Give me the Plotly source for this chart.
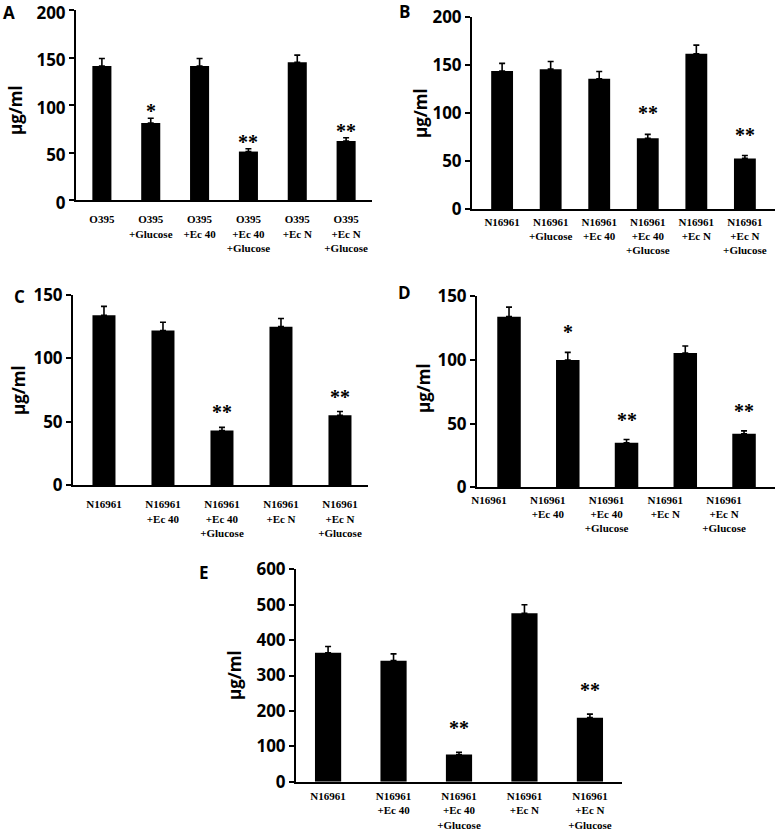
import plotly.graph_objects as go

# ---------------- data ----------------
cats_A = ["O395", "O395<br>+Glucose", "O395<br>+Ec 40", "O395<br>+Ec 40<br>+Glucose",
          "O395<br>+Ec N", "O395<br>+Ec N<br>+Glucose"]
vals_A = [141, 81, 141, 51, 145, 62]
err_A = [8, 5, 8, 3, 7.5, 3.5]
sig_A = ["", "*", "", "**", "", "**"]

cats_B = ["N16961", "N16961<br>+Glucose", "N16961<br>+Ec 40", "N16961<br>+Ec 40<br>+Glucose",
          "N16961<br>+Ec N", "N16961<br>+Ec N<br>+Glucose"]
vals_B = [144, 146, 136, 74, 162, 53]
err_B = [8, 8, 7.5, 4, 9, 3]
sig_B = ["", "", "", "**", "", "**"]

cats_CDE = ["N16961", "N16961<br>+Ec 40", "N16961<br>+Ec 40<br>+Glucose",
            "N16961<br>+Ec N", "N16961<br>+Ec N<br>+Glucose"]
vals_C = [134, 122, 43, 125, 55]
err_C = [7, 6.5, 2.5, 6.5, 3]
sig_C = ["", "", "**", "", "**"]

vals_D = [134, 100, 35, 105.5, 42]
err_D = [7.5, 6, 2.5, 5.5, 2.3]
sig_D = ["", "*", "**", "", "**"]

vals_E = [364, 342, 77, 476, 181]
err_E = [18, 19, 6, 24, 10]
sig_E = ["", "", "**", "", "**"]

y_title = "μg/ml"

# ---------------- layout helpers ----------------
W, H = 777, 834
SANS = "Open Sans"
SERIF = "Liberation Serif"


def px_x(px):
    return px / W


def px_y(py):
    return 1 - py / H


panels = [
    dict(letter="A", cats=cats_A, vals=vals_A, err=err_A, sig=sig_A,
         xpx=(76, 372), ypx=(200, 10), yr=[0, 200], dtick=50, xr=[-0.53, 5.53],
         bw=0.39, letter_pos=(9, 12), title_pos=(15, 110), standoff=8, shift=0, star=4,
         yshift_lab=3),
    dict(letter="B", cats=cats_B, vals=vals_B, err=err_B, sig=sig_B,
         xpx=(472, 775), ypx=(209.3, 17.3), yr=[0, 200], dtick=50, xr=[-0.62, 5.62],
         bw=0.45, letter_pos=(405, 11), title_pos=(420, 113), standoff=1, shift=0, star=18,
         yshift_lab=0),
    dict(letter="C", cats=cats_CDE, vals=vals_C, err=err_C, sig=sig_C,
         xpx=(73, 368), ypx=(485, 295), yr=[0, 150], dtick=50, xr=[-0.525, 4.475],
         bw=0.39, letter_pos=(19, 296), title_pos=(18, 390), standoff=8, shift=0, star=12,
         yshift_lab=0),
    dict(letter="D", cats=cats_CDE, vals=vals_D, err=err_D, sig=sig_D,
         xpx=(477, 775), ypx=(487.3, 296.3), yr=[0, 150], dtick=50, xr=[-0.545, 4.527],
         bw=0.40, letter_pos=(405, 292), title_pos=(423, 388), standoff=1, shift=-20, star=17,
         yshift_lab=0),
    dict(letter="E", cats=cats_CDE, vals=vals_E, err=err_E, sig=sig_E,
         xpx=(296, 622), ypx=(781.7, 569.3), yr=[0, 600], dtick=100, xr=[-0.49, 4.49],
         bw=0.40, letter_pos=(204, 572), title_pos=(234, 675), standoff=3, shift=0, star=21,
         yshift_lab=0),
]

fig = go.Figure()
annotations = []
layout = {}

for i, p in enumerate(panels):
    n = i + 1
    xa = "x" if n == 1 else f"x{n}"
    ya = "y" if n == 1 else f"y{n}"
    xkey = "xaxis" if n == 1 else f"xaxis{n}"
    ykey = "yaxis" if n == 1 else f"yaxis{n}"

    fig.add_trace(go.Bar(
        x=p["cats"], y=p["vals"], xaxis=xa, yaxis=ya,
        marker=dict(color="black", line=dict(width=0)),
        width=p["bw"],
        error_y=dict(type="data", symmetric=False, array=p["err"],
                     arrayminus=[0] * len(p["err"]),
                     color="black", thickness=1.6, width=3),
        showlegend=False,
    ))

    layout[xkey] = dict(
        domain=[px_x(p["xpx"][0]), px_x(p["xpx"][1])],
        anchor=ya, type="category", range=p["xr"], automargin=False,
        showline=True, linecolor="black", linewidth=2,
        ticks="", showgrid=False, zeroline=False,
        tickfont=dict(family=SERIF, size=11, color="black", weight="bold"),
        tickangle=0, ticklabelstandoff=p["standoff"], ticklabelshift=p["shift"],
        ticklabeloverflow="allow", fixedrange=True,
    )
    layout[ykey] = dict(
        domain=[px_y(p["ypx"][0]), px_y(p["ypx"][1])],
        anchor=xa, range=p["yr"], dtick=p["dtick"], tick0=0, automargin=False,
        showline=True, linecolor="black", linewidth=2,
        ticks="outside", ticklen=5, tickwidth=2, tickcolor="black",
        showgrid=False, zeroline=False,
        tickfont=dict(family=SANS, size=17, color="black", weight="bold"),
        ticklabelshift=p["yshift_lab"],
        ticklabeloverflow="allow", fixedrange=True,
    )

    # significance marks
    for c, v, e, s in zip(p["cats"], p["vals"], p["err"], p["sig"]):
        if s:
            annotations.append(dict(
                x=c, y=v + e, xref=xa, yref=ya, text=s, showarrow=False,
                yanchor="bottom", yshift=p["star"] - 10,
                font=dict(family=SERIF, size=20, color="black", weight="bold"),
            ))

    # panel letter
    lx, ly = p["letter_pos"]
    annotations.append(dict(
        x=px_x(lx), y=px_y(ly), xref="paper", yref="paper", text=p["letter"],
        showarrow=False, xanchor="center", yanchor="middle",
        font=dict(family=SANS, size=17, color="black", weight="bold"),
    ))

    # y axis title
    tx, ty = p["title_pos"]
    annotations.append(dict(
        x=px_x(tx), y=px_y(ty), xref="paper", yref="paper", text=y_title,
        showarrow=False, xanchor="center", yanchor="middle", textangle=-90,
        font=dict(family=SANS, size=17, color="black", weight="bold"),
    ))

fig.update_layout(
    width=W, height=H,
    margin=dict(l=0, r=0, t=0, b=0, pad=0, autoexpand=False),
    paper_bgcolor="white", plot_bgcolor="white",
    annotations=annotations,
    **layout,
)

fig.write_html(
    "out.html",
    config={"displayModeBar": False},
    post_script="document.body.style.margin='0px';document.body.style.overflow='hidden';",
)
